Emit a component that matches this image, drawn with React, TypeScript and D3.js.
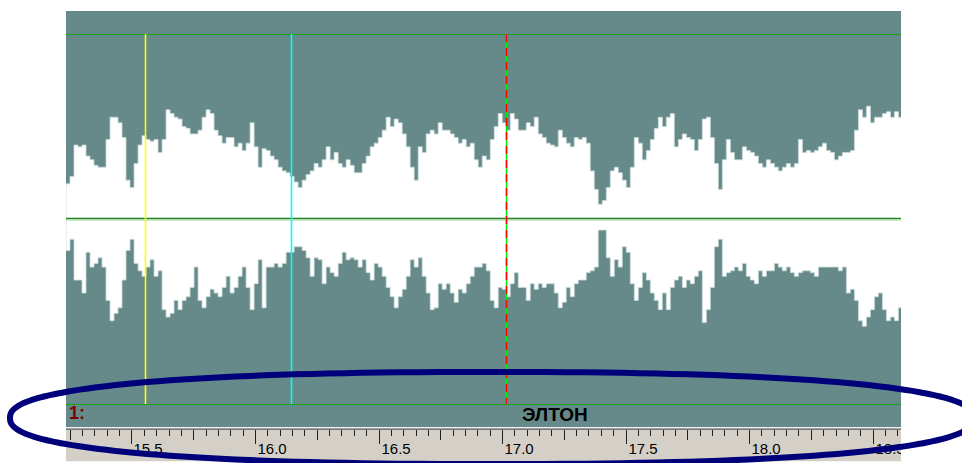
import React from 'react';
import * as d3 from 'd3';

// ---- data ----
const viewStart = 15.235; // seconds at left edge of the view
const viewEnd = 18.615; // seconds at right edge of the view
const sampleStep = 0.0162; // seconds per envelope column
// positive peak amplitude (% of full scale) per column
const posPeak = [
  19, 23, 40, 39, 40, 34, 32, 29, 28, 28, 43, 55, 55, 52, 44, 21, 17, 30, 40, 45,
  43, 42, 43, 36, 43, 59, 57, 55, 54, 50, 49, 46, 46, 48, 55, 59, 57, 48, 45, 41,
  44, 44, 39, 41, 37, 41, 52, 39, 28, 38, 37, 34, 32, 28, 26, 25, 23, 20, 17, 21,
  24, 26, 30, 28, 32, 39, 32, 36, 30, 28, 32, 29, 25, 25,
  30, 34, 39, 41, 44, 48, 55, 50, 54, 52, 46, 39, 28, 21, 39, 36, 46, 48, 46, 52,
  48, 48, 46, 44, 41, 43, 39, 41, 32, 28, 34, 32, 43, 50, 57, 52, 48, 57, 54, 48,
  48, 52, 50, 55, 46, 44, 41, 40, 39, 48, 44, 41, 39, 44, 43, 44, 41, 26, 16, 8,
  10, 17, 26, 28, 25, 21, 17, 28, 44, 41, 32, 37, 43, 49, 55,
  50, 55, 57, 39, 43, 46, 44, 43, 37, 43, 54, 55, 44, 30, 16, 32, 43, 36, 32, 32,
  39, 37, 36, 34, 30, 28, 32, 30, 28, 26, 28, 30, 28, 30, 43, 36, 37, 36, 37, 39,
  41, 37, 36, 32, 34, 36, 36, 37, 48, 59, 55, 61, 52, 55, 55, 57, 58, 55, 58, 55,
];
// negative peak magnitude (% of full scale) per column
const negPeak = [
  17, 11, 33, 33, 40, 18, 26, 24, 21, 26, 44, 55, 51, 48, 33, 17, 11, 24, 28, 31,
  26, 22, 31, 28, 49, 53, 51, 44, 49, 44, 42, 37, 26, 44, 48, 42, 38, 40, 42, 37,
  31, 40, 37, 31, 26, 37, 49, 35, 22, 48, 26, 26, 24, 26, 24, 18, 18, 15, 15, 17,
  21, 31, 21, 22, 35, 26, 29, 31, 24, 18, 22, 21, 22, 26,
  22, 29, 33, 24, 26, 31, 37, 42, 48, 42, 38, 31, 22, 26, 21, 31, 40, 49, 48, 35,
  38, 35, 40, 45, 38, 40, 35, 31, 26, 26, 24, 28, 44, 48, 37, 38, 42, 35, 29, 37,
  37, 44, 35, 38, 35, 37, 35, 35, 40, 48, 45, 37, 42, 35, 33, 33, 29, 28, 26, 6,
  6, 21, 31, 22, 26, 15, 18, 35, 44, 37, 29, 33, 40, 44, 49,
  40, 49, 37, 33, 31, 37, 33, 35, 31, 28, 56, 49, 37, 15, 11, 31, 29, 28, 26, 28,
  24, 31, 33, 35, 28, 31, 28, 28, 24, 26, 28, 26, 29, 31, 29, 28, 28, 29, 31, 26,
  26, 26, 26, 26, 28, 26, 40, 38, 44, 55, 58, 53, 49, 42, 40, 49, 55, 53, 55, 48,
];
const cursorTimes = [15.553, 16.146, 17.015];
const cursorKinds = ['yellow', 'cyan', 'play'];
const rulerMinorStep = 0.05;
const channelLabel = '1:';
const trackLabel = 'ЭЛТОН';

// ---- layout ----
const W = 962;
const H = 463;
const left = 66;
const right = 901;
const top = 11;
const waveBottom = 427;
const font = 'Liberation Sans, Arial, sans-serif';

// hand-drawn highlight loop (superellipse)
const loop = { cx: 492, cy: 418, rx: 482, ry: 46, n: 2.4 };

export default function App() {
  const xs = d3.scaleLinear().domain([viewStart, viewEnd]).range([left, right]);
  const ys = d3.scaleLinear().domain([-100, 100]).range([404, 34]);

  const idx = d3.range(posPeak.length + 1);
  const area = d3
    .area<number>()
    .x((i) => xs(viewStart + i * sampleStep))
    .y1((i) => ys(posPeak[Math.min(i, posPeak.length - 1)]))
    .y0((i) => ys(-negPeak[Math.min(i, negPeak.length - 1)]))
    .curve(d3.curveStepAfter);

  const kStart = Math.ceil(viewStart / rulerMinorStep);
  const kEnd = Math.floor(viewEnd / rulerMinorStep);
  const ticks = d3.range(kStart, kEnd + 1).map((k) => ({
    t: k * rulerMinorStep,
    major: k % 10 === 0,
    mid: k % 5 === 0 && k % 10 !== 0,
  }));

  const yTop = ys(100);
  const yBot = ys(-100);
  const yMid = ys(0);

  const angles = d3.range(0, 361, 2).map((a) => (a * Math.PI) / 180);
  const e = 2 / loop.n;
  const loopPath = d3
    .line<number>()
    .x((a) => loop.cx + loop.rx * Math.sign(Math.cos(a)) * Math.pow(Math.abs(Math.cos(a)), e))
    .y((a) => loop.cy + loop.ry * Math.sign(Math.sin(a)) * Math.pow(Math.abs(Math.sin(a)), e))
    .curve(d3.curveCatmullRomClosed)(angles.slice(0, -1));

  return (
    <svg
      width={W}
      height={H}
      style={{ position: 'absolute', left: 0, top: 0 }}
      xmlns="http://www.w3.org/2000/svg"
    >
      <defs>
        <clipPath id="plotClip">
          <rect x={left} y={top} width={right - left} height={H - top} />
        </clipPath>
      </defs>
      <rect x={0} y={0} width={W} height={H} fill="#ffffff" />
      <g clipPath="url(#plotClip)">
        <rect x={left} y={top} width={right - left} height={waveBottom - top} fill="#658a89" />
        <path d={area(idx) || ''} fill="#ffffff" stroke="#c6d9d8" strokeWidth={0.8} />
        {/* full scale dotted lines */}
        <line x1={left} x2={right} y1={Math.round(yTop) + 0.5} y2={Math.round(yTop) + 0.5} stroke="#009000" strokeDasharray="1,1" />
        <line x1={left} x2={right} y1={Math.round(yBot) + 0.5} y2={Math.round(yBot) + 0.5} stroke="#009000" strokeDasharray="1,1" />
        {/* center line */}
        <line x1={left} x2={right} y1={yMid - 0.5} y2={yMid - 0.5} stroke="#1f841f" strokeWidth={1.5} />
        <line x1={left} x2={right} y1={yMid + 1} y2={yMid + 1} stroke="#9ed69e" strokeWidth={1} />
        {/* cursors */}
        {cursorTimes.map((t, i) => {
          const x = Math.round(xs(t)) + 0.5;
          if (cursorKinds[i] === 'play') {
            return (
              <g key={i}>
                <line x1={x} x2={x} y1={yTop} y2={yBot} stroke="#00ee00" strokeWidth={1.5} />
                <line x1={x} x2={x} y1={yTop} y2={yBot} stroke="#ff0000" strokeWidth={1.5} strokeDasharray="8,6" />
              </g>
            );
          }
          return (
            <line key={i} x1={x} x2={x} y1={yTop} y2={yBot} stroke={cursorKinds[i] === 'yellow' ? '#ffff00' : '#00ffff'} strokeWidth={1.6} />
          );
        })}
        <text x={69} y={419} fontFamily={font} fontWeight="bold" fontSize={18} fill="#800000">
          {channelLabel}
        </text>
        <text x={522} y={421} fontFamily={font} fontWeight="bold" fontSize={19} fill="#000000">
          {trackLabel}
        </text>
        {/* ruler */}
        <rect x={left} y={waveBottom} width={right - left} height={1.3} fill="#f4f4f4" />
        <rect x={left} y={428.3} width={right - left} height={1.7} fill="#7a7a7a" />
        <rect x={left} y={430} width={right - left} height={31} fill="#d4d0c8" />
        <rect x={left} y={461} width={right - left} height={1} fill="#f4f4f4" />
        {ticks.map((tk, i) => {
          const x = Math.round(xs(tk.t)) + 0.5;
          const len = tk.major ? 14 : tk.mid ? 10 : 6;
          return (
            <g key={i}>
              <line x1={x} x2={x} y1={430} y2={430 + len} stroke="#202020" strokeWidth={1} />
              {tk.major && (
                <text x={x + 2} y={454} fontFamily={font} fontSize={15} fill="#000">
                  {tk.t.toFixed(1)}
                </text>
              )}
            </g>
          );
        })}
      </g>
      <path d={loopPath || ''} fill="none" stroke="#00007a" strokeWidth={6} />
    </svg>
  );
}
